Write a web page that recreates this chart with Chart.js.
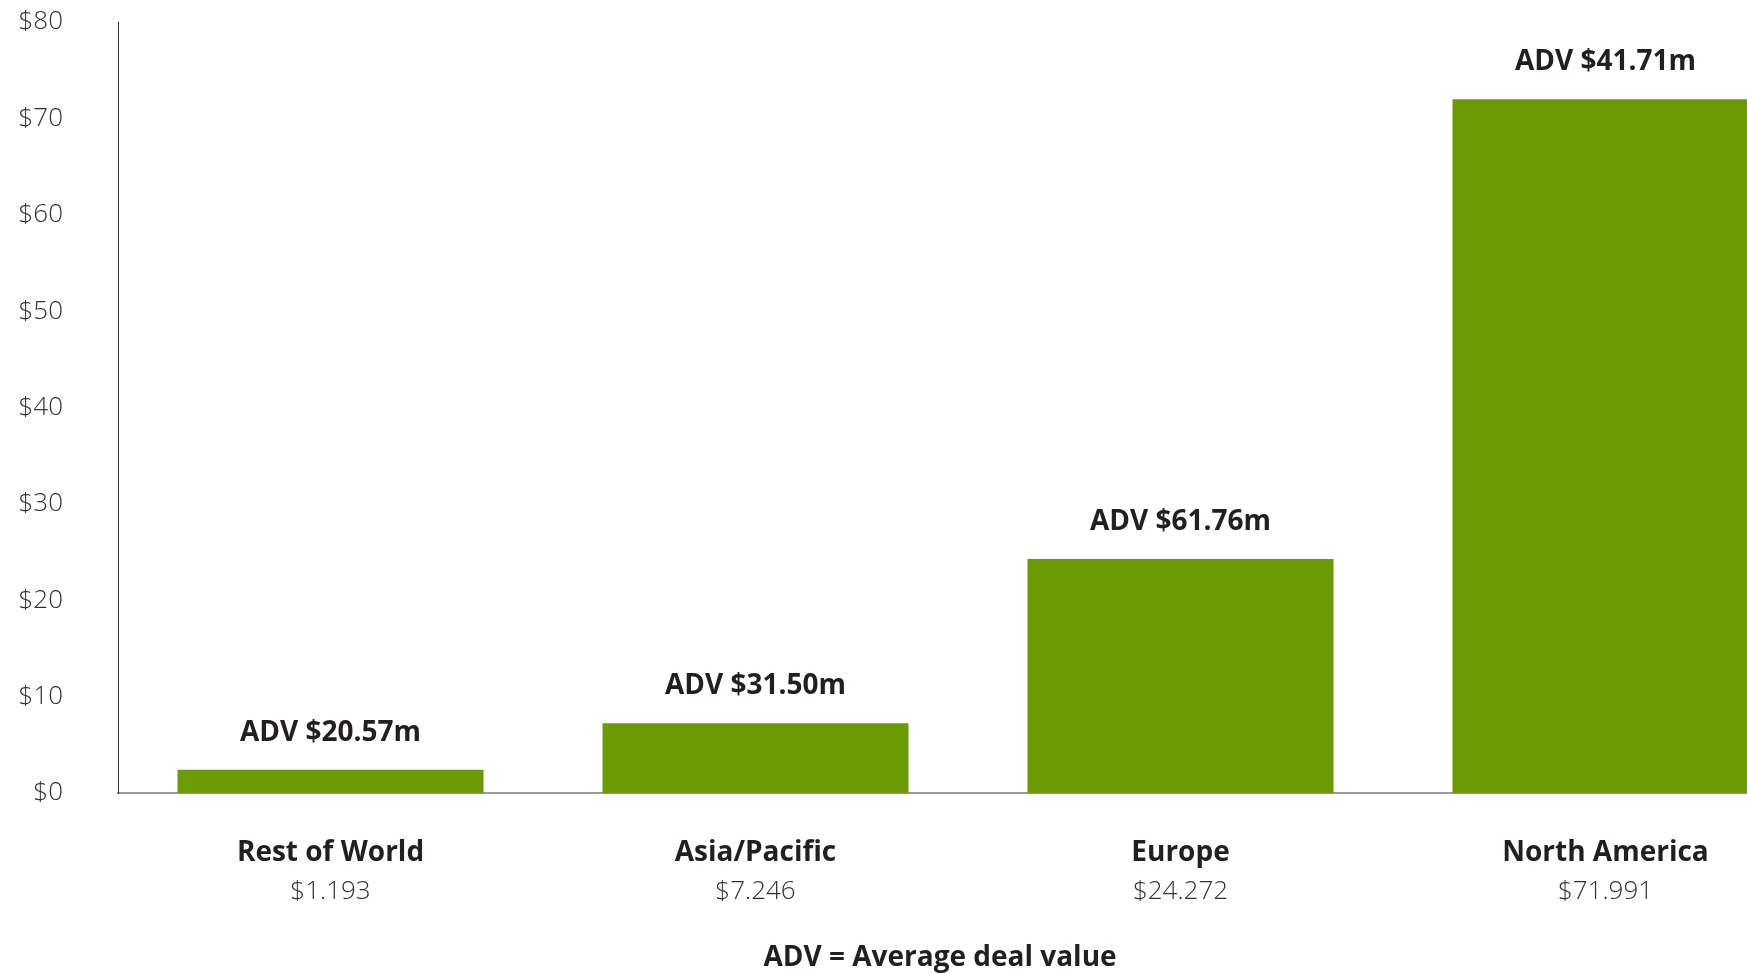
<!DOCTYPE html>
<html>
<head>
<meta charset="utf-8">
<script src="https://cdn.jsdelivr.net/npm/chart.js@4.4.1/dist/chart.umd.min.js"></script>
<style>
  html, body { margin: 0; padding: 0; background: #fff; overflow: hidden; }
  #wrap { width: 1830px; height: 974px; position: relative; }
</style>
</head>
<body>
<div id="wrap"><canvas id="c"></canvas></div>
<script>
// ---- data ----
const categories = ['Rest of World', 'Asia/Pacific', 'Europe', 'North America'];
const barValues = [2.4, 7.246, 24.272, 71.991];          // bar heights as drawn
const valueLabels = ['$1.193', '$7.246', '$24.272', '$71.991'];
const advLabels = ['ADV $20.57m', 'ADV $31.50m', 'ADV $61.76m', 'ADV $41.71m'];
const yTicks = [0, 10, 20, 30, 40, 50, 60, 70, 80];
const footnote = 'ADV = Average deal value';

const BOLD = '700 28px "Open Sans"';
const LIGHT = '300 26px "Open Sans"';
const DARK = '#231f20';

const labelPlugin = {
  id: 'labels',
  afterDatasetsDraw(chart) {
    const ctx = chart.ctx;
    const meta = chart.getDatasetMeta(0);
    const xs = chart.scales.x;
    ctx.save();
    ctx.textAlign = 'center';
    ctx.textBaseline = 'middle';
    meta.data.forEach((bar, i) => {
      ctx.font = BOLD;
      ctx.fillStyle = DARK;
      ctx.fillText(advLabels[i], bar.x, bar.y - 37);
      const cx = xs.getPixelForValue(i);
      ctx.fillText(categories[i], cx, 853);
      ctx.font = LIGHT;
      ctx.fillStyle = '#333';
      ctx.fillText(valueLabels[i], cx, 892);
    });
    ctx.font = BOLD;
    ctx.fillStyle = DARK;
    ctx.fillText(footnote, 940, 958);
    ctx.restore();
  }
};

new Chart(document.getElementById('c'), {
  type: 'bar',
  data: {
    labels: categories,
    datasets: [{
      data: barValues,
      backgroundColor: '#6a9a04',
      borderWidth: 0,
      barPercentage: 0.72,
      categoryPercentage: 1.0
    }]
  },
  options: {
    responsive: true,
    maintainAspectRatio: false,
    animation: false,
    layout: { padding: { top: 22, left: 0, right: 12, bottom: 0 } },
    plugins: { legend: { display: false }, tooltip: { enabled: false } },
    scales: {
      x: {
        grid: { display: false, drawTicks: false },
        border: { display: true, color: '#999', width: 2 },
        ticks: { display: false },
        afterFit(s) { s.height = 181; s.paddingLeft = 0; s.paddingRight = 0; }
      },
      y: {
        min: 0, max: 80,
        afterBuildTicks(s) { s.ticks = yTicks.map(v => ({ value: v })); },
        grid: { display: false, drawTicks: false },
        border: { display: true, color: '#333', width: 1 },
        ticks: {
          padding: 55,
          color: '#333',
          font: { family: 'Open Sans', weight: '300', size: 26 },
          callback: v => '$' + v
        },
        afterFit(s) { s.width = 118; s.paddingTop = 0; s.paddingBottom = 0; }
      }
    }
  },
  plugins: [labelPlugin]
});
</script>
</body>
</html>
